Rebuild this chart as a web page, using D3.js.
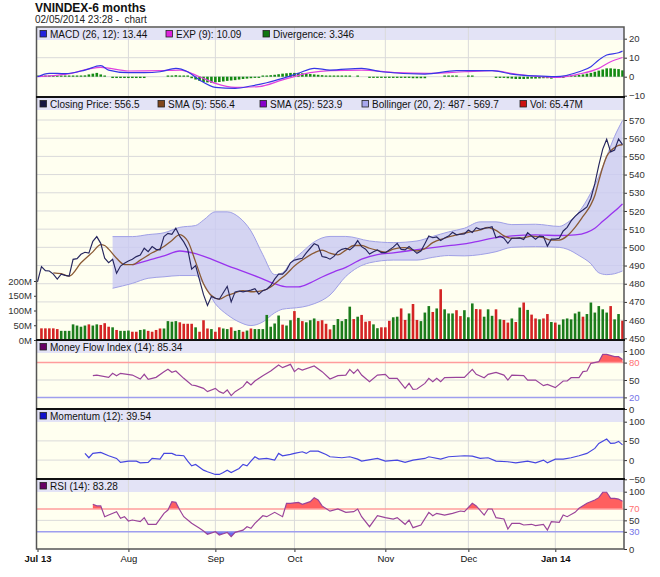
<!DOCTYPE html>
<html>
<head>
<meta charset="utf-8">
<script src="https://cdn.jsdelivr.net/npm/d3@7"></script>
<style>
  body { margin: 0; background: #fff; }
  text { font-family: "Liberation Sans", Arial, sans-serif; }
</style>
</head>
<body>
<div id="chart"></div>
<script>
// Values (x = trading day index, 0 = Jul 1 2013)
const monthTicks = [0, 23, 45, 65, 88, 109, 131];
const monthLabels = ["Jul 13", "Aug", "Sep", "Oct", "Nov", "Dec", "Jan 14"];

const closePrice = [481, 489.4, 487.2, 487, 485.3, 482.6, 485.3, 484.6, 484.2, 493.4,
  493.8, 496.2, 497.3, 496.8, 503.3, 505.9, 502.2, 494, 491.6, 493.4,
  485.7, 489.7, 491.2, 492.5, 493.4, 494.9, 495.8, 499.5, 497.6, 500.4,
  498.9, 498.6, 505.9, 507.7, 507.1, 510.5, 506, 503, 499, 488,
  490, 482, 474, 468, 473, 472, 471.5, 475, 478.5, 470,
  475.5, 476, 475.5, 476, 476.5, 477.3, 474.3, 476.2, 477, 479,
  482.5, 485.3, 485.3, 487.5, 491.5, 493, 493.5, 494, 497, 499.5,
  502, 501, 495, 494.5, 493.5, 495, 497.6, 498.9, 499.5, 498.6,
  500.4, 503.7, 500.4, 499, 496.3, 497.6, 498.6, 497.1, 497.1, 498.6,
  500.1, 502.2, 498.9, 498.6, 500.4, 498.6, 496.7, 498, 502, 506.2,
  505.3, 505.7, 503.8, 505.2, 506.2, 508.3, 506.9, 507.2, 507.4, 509.5,
  508.1, 510.8, 509.9, 510.5, 510.8, 511.3, 505.3, 506.2, 505, 502.2,
  505, 505, 505.2, 504.3, 508.1, 506.2, 504.5, 506.2, 506, 500.7,
  504.5, 504.5, 505, 509, 511, 514.5, 517, 519, 520.5, 522.2,
  527, 535, 545, 554, 559.4, 552.5, 553.5, 559.6, 556.5];

const sma5 = [[4,486],[6,485.5],[8,484.2],[11,491.5],[14,497.5],[16,501.5],[17,501],[18,499],[20,494],[22,490.5],
  [24,490.5],[26,493],[29,497],[32,500.5],[34,503.8],[36,507],[37,506],[38,503.5],[40,492],[42,480],
  [44,473.5],[46,471.5],[48,473.6],[50,475],[52,476.2],[54,475.6],[57,476.2],[59,478.2],[61,481.8],[63,485.4],
  [65,489.7],[67,493],[70,497],[72,498.5],[74,496.8],[76,495.9],[78,498.5],[80,501],[82,501],[84,499.5],
  [86,498.3],[88,497.3],[90,499],[93,499.8],[96,498],[98,499.3],[100,502.6],[103,505],[106,506.8],[109,508.3],
  [112,509.6],[114,510.9],[116,509.3],[118,506.3],[120,505],[123,505.2],[125,506.2],[128,505.3],[130,504],[132,504],
  [134,506.3],[136,511],[138,517],[140,523.5],[141,528.5],[142,536.5],[143,544],[144,550],[145,553],[146,554.8],
  [147,556],[148,556.4]];

const sma25 = [[24,490.3],[28,492.8],[32,495.3],[36,498],[40,496.5],[44,493.5],[48,490],[52,486.8],[56,483.5],[60,480],
  [63,478.3],[66,478.3],[69,480.5],[72,483.7],[75,486.5],[78,489],[82,493.5],[86,496],[90,497],[96,498.7],
  [100,499.8],[104,500.9],[108,501.9],[112,503.6],[116,505.3],[120,506.3],[126,506.8],[132,506.5],[136,506.8],[139,508.2],
  [141,510.5],[143,514.3],[145,518],[147,521.8],[148,523.9]];

const bandIdx = [19, 24, 28, 32, 36, 40, 42, 45, 48, 51, 54, 57, 60, 62, 64, 67, 70, 74, 78, 84,
  90, 96, 100, 104, 108, 112, 116, 120, 126, 132, 134, 137, 140, 142, 144, 146, 148];
const bandUpper = [505.9, 505.9, 507, 508, 511, 512, 515, 519.5, 519.5, 516.5, 509, 496, 485, 486, 491.5, 497.5, 503, 506, 506, 503.5,
  502.6, 503.5, 506, 508.5, 510.5, 514, 514, 512.5, 512.7, 511.5, 513.5, 519.5, 530, 539, 550, 561, 569.7];
const bandLower = [477.5, 480.2, 483, 483.8, 484.5, 484.5, 480, 469, 463, 459, 457, 459, 464, 466, 466.5, 467.2, 469, 473.8, 484, 491.5,
  493, 493, 494.5, 495.5, 495.3, 496, 497.6, 500, 500.4, 500, 499, 495.5, 491, 486, 485, 485.5, 487];

// volume in millions, starting at day 1
const volumeM = [39.5, 39.5, 39.5, 39.5, 37, 31, 31, 31, 53, 49,
  45, 49, 53, 49, 53, 51, 57, 45, 43, 34,
  31, 31, 32, 28, 28, 34, 36, 31, 28, 34,
  39, 39, 64, 62, 64, 60, 55, 55, 55, 43,
  28, 67, 39, 37, 28, 43, 39, 37, 43, 31,
  34, 28, 32, 39, 37, 37, 37, 85, 45, 56,
  83, 52, 49, 67, 98, 75, 64, 60, 67, 73,
  64, 67, 55, 36, 51, 71, 64, 71, 113, 71,
  79, 85, 62, 64, 53, 40, 43, 43, 65, 77,
  79, 107, 68, 90, 122, 68, 64, 93, 115, 95,
  107, 172, 104, 90, 90, 101, 81, 101, 77, 124,
  105, 104, 79, 104, 82, 104, 70, 68, 59, 73,
  61, 110, 127, 102, 86, 73, 70, 73, 88, 61,
  59, 52, 70, 73, 70, 90, 96, 79, 88, 127,
  93, 115, 104, 93, 115, 70, 88, 65.47];
const volumeDir = ["rrrrrggggg", "ggrggrrrgr", "gggrrggrrr", "rggggrrrrg", "rrrgrrggrg",
  "grgrgggggg", "grggrgrggg", "rrrrgggggr", "grrrggrrrg", "grrgrrgggr",
  "grgggrrggg", "rrgggrgrrg", "rgrgrrgrrg", "rggggggrgg", "ggggrggr"].join("");

const macd = [[0,0],[3,1.8],[7,1.6],[12,3.5],[16,5.8],[18,3.5],[23,2.1],[27,2.1],[31,2.6],[35,4.4],
  [38,2.6],[41,-1.7],[45,-5.6],[50,-6.1],[54,-4.9],[58,-3.2],[62,-0.9],[66,1.8],[70,4.4],[74,3.5],
  [82,4.4],[87,2.6],[98,1.4],[106,3.2],[115,3.2],[120,1.4],[126,0.4],[131,0],[137,2.6],[140,5.3],
  [142,8.8],[144,11.4],[147,12.6],[148,13.44]];
const macdExp = [[0,0],[7,1.2],[16,4.9],[23,3],[31,3.2],[36,3.5],[41,0],[45,-3.5],[50,-5.6],[56,-5.2],
  [62,-1.7],[69,2.1],[74,3.2],[82,3.5],[91,2.1],[99,1.8],[108,2.6],[115,3.2],[121,1.4],[131,-0.4],
  [137,1.4],[142,4.4],[145,7.9],[148,10.09]];
const divergence = [0.3, 0.3, 0.4, 0.4, 0.3, 0.5, 0.5, 0.6, 0.5, 0.6,
  0.5, 0.6, 0.7, 1.2, 1.6, 2.0, 1.2, 0.3, 0, -0.7,
  -0.7, -0.7, -0.7, -0.7, -0.7, -0.7, -0.7, -0.7, 0, 0,
  0, 0, 0, 0.5, 0.6, 0.8, 0.6, 0.3, 0.2, -0.8,
  -1.5, -2.2, -2.8, -3.0, -3.2, -3.0, -2.8, -2.5, -2.2, -2.0,
  -1.8, -1.5, -1.2, -1.0, -0.8, -0.6, -0.3, 0.3, 0.5, 0.8,
  1.0, 1.3, 1.6, 1.8, 2.0, 2.0, 2.0, 1.8, 1.6, 1.4,
  1.2, 1.0, 0.8, 0.6, 0.5, 0.5, 0.4, 0.4, 0.4, 0.3,
  0, 0.3, 0, 0, -0.3, -0.5, -0.5, -0.5, -0.5, -0.5,
  -0.5, -0.5, -0.5, -0.5, -0.5, -0.8, -0.8, -0.8, -0.8, 0,
  0, 0, 0, 0.4, 0.4, 0.4, 0.4, 0, 0, 0.4,
  0.4, 0, 0, 0, 0, 0, -0.4, -0.5, -0.6, -0.8,
  -1.0, -1.2, -1.2, -1.2, -1.1, -1.0, -1.0, -0.9, -0.8, -0.8,
  -1.0, -0.6, -0.4, -0.2, 0.3, 0.5, 0.7, 0.9, 1.2, 1.6,
  2.0, 2.6, 3.2, 3.8, 4.4, 4.4, 4.2, 4.0, 3.346];

const mfi = [[14,57.4],[15,58.5],[18,54.6],[19,61.5],[20,57.4],[21,61.5],[24,58.5],[26,51.7],[27,59.8],[28,51.1],
  [30,54.6],[32,64.4],[33,68.4],[34,63.2],[35,65.5],[37,52.9],[39,41.4],[40,40.2],[42,35.6],[43,29.9],
  [45,35.6],[46,29.9],[47,27],[48,32.8],[49,23],[50,29.9],[52,38.5],[53,47.1],[54,41.4],[55,48.3],
  [57,57.4],[59,65.5],[61,75.9],[62,71.3],[64,77],[65,64.4],[66,70.1],[67,67.2],[70,74.1],[72,64.4],
  [74,51.7],[76,57.4],[78,58.5],[79,68.4],[80,61.5],[81,68.4],[82,58.5],[84,47.1],[86,58.5],[88,59.8],
  [89,52.9],[91,52.9],[93,35.6],[94,44.2],[95,33.9],[96,34.5],[98,44.2],[99,52.9],[100,47.1],[101,52.9],
  [102,47.1],[103,54],[106,54.6],[108,54.6],[110,68.4],[111,59.8],[113,54],[114,59.8],[116,63.2],[118,58.5],
  [119,49.9],[120,58.5],[123,57.4],[124,49.9],[126,49.9],[128,40.2],[129,42.5],[131,36.8],[133,48.3],[134,48.3],
  [135,54],[137,54],[138,64.4],[139,65.5],[140,78.8],[142,81.6],[143,94.2],[144,94.2],[146,90.2],[147,90.2],
  [148,85.34]];

const momentum = [[12,17.4],[13,6.1],[14,17.4],[16,20],[18,11.3],[20,4.3],[21,-6],[23,-2.6],[25,-2.6],[26,-7],
  [28,-6],[29,4.3],[31,2.6],[32,17.4],[34,17.4],[35,13],[37,11.3],[38,-2.6],[39,-14.8],[40,-11.3],
  [42,-26.1],[43,-30.5],[45,-37.4],[46,-37.4],[47,-32.2],[48,-26.1],[49,-32.2],[51,-21.8],[52,-11.3],[53,-14.8],
  [54,-2.6],[55,8.7],[56,2.6],[58,4.3],[60,0],[61,17.4],[62,11.3],[64,14.8],[65,17.4],[67,21.7],
  [68,17.4],[69,23.5],[71,23.5],[73,14.8],[74,8.7],[77,6.1],[79,8.7],[81,2.6],[82,-2.6],[86,4.3],
  [88,-2.6],[91,0],[93,-6],[95,0],[98,4.3],[99,8.7],[102,2.6],[104,8.7],[108,11.3],[110,10.4],
  [112,4.3],[114,6.1],[116,-2.6],[119,-4.3],[121,-7],[124,-2.6],[126,-7],[128,0],[129,-7],[131,2.6],
  [133,2.6],[135,6.1],[137,11.3],[139,17.4],[141,30.5],[142,43.5],[144,54.8],[145,43.5],[146,44],[147,48.7],
  [148,39.54]];

const rsi = [[14,78],[15,75.2],[16,75.2],[17,56.4],[18,59.3],[20,65.1],[21,53.5],[22,56.4],[23,48.9],[24,50.6],
  [26,47.7],[27,54.7],[28,43.1],[30,43.1],[32,62.2],[33,68],[34,82.6],[35,81.4],[36,68],[37,56.4],
  [39,44.8],[41,36.1],[42,31.4],[43,25.6],[45,30.2],[46,24.4],[47,26.7],[48,29],[49,21.5],[50,29],
  [52,33],[53,38.9],[54,36.1],[55,44.8],[57,58.1],[58,56.4],[60,64],[62,56.4],[63,79.8],[64,79.8],
  [66,81.4],[67,78],[69,82.6],[70,89.6],[71,85.5],[72,75.2],[74,66],[76,69.8],[78,64],[80,65.1],
  [81,69.8],[82,56.4],[84,38.9],[86,58.1],[88,54.7],[90,52.3],[91,54.7],[93,43.1],[94,50.6],[95,37.2],
  [97,41.9],[99,64],[100,58.1],[101,62.2],[103,59.3],[105,62.2],[107,66.3],[108,65.1],[110,79.8],[111,75.2],
  [113,59.3],[114,69.8],[115,69.8],[116,54.7],[118,52.3],[119,34.9],[120,44.8],[122,44.8],[123,41.9],[125,43.1],
  [126,40.7],[128,43.1],[129,33.2],[130,47.7],[132,46.5],[133,59.3],[134,56.4],[136,64],[137,71],[139,79.8],
  [141,85.5],[142,89.6],[143,99],[144,99],[145,88.4],[146,88.4],[147,87.2],[148,83.28]];

// ---- layout ----
const W = 660, H = 577;
const L = 37, R = 624;

const svg = d3.select("#chart").append("svg")
    .attr("width", W)
    .attr("height", H);

const x = d3.scaleLinear().domain([0, 148]).range([37.5, 622.5]);

const yMacd = d3.scaleLinear().domain([-10, 20]).range([95.7, 38.7]);
const yPrice = d3.scaleLinear().domain([450, 570]).range([338.3, 120]);
const yVol = d3.scaleLinear().domain([0, 200]).range([340, 281]);
const yMfi = d3.scaleLinear().domain([0, 100]).range([409, 351]);
const yMom = d3.scaleLinear().domain([-50, 100]).range([479.3, 421.7]);
const yRsi = d3.scaleLinear().domain([0, 100]).range([549, 491.7]);

// title
svg.append("text").attr("x", 35).attr("y", 11.5)
    .attr("font-size", 12).attr("font-weight", "bold").attr("fill", "#111")
    .text("VNINDEX-6 months");
svg.append("text").attr("x", 35).attr("y", 22.5)
    .attr("font-size", 10).attr("fill", "#222").style("white-space", "pre")
    .text("02/05/2014 23:28 -  chart");

// panel backgrounds, legend strips, month grid
function panel(top, bottom) {
  svg.append("rect").attr("x", L).attr("y", top).attr("width", R - L).attr("height", bottom - top)
      .attr("fill", "#fffff0");
  svg.append("rect").attr("x", L).attr("y", top + 1).attr("width", R - L).attr("height", 12)
      .attr("fill", "#e3e3f6");
  svg.append("g").selectAll("line").data(monthTicks.slice(1)).join("line")
      .attr("x1", d => x(d)).attr("x2", d => x(d))
      .attr("y1", top).attr("y2", bottom)
      .attr("stroke", "#dadada");
}
panel(27, 97);
panel(97, 340);
panel(340, 409);
panel(409, 479);
panel(479, 549);

function hgrid(vals, y, color, w) {
  svg.append("g").selectAll("line").data(vals).join("line")
      .attr("x1", L).attr("x2", R)
      .attr("y1", d => y(d)).attr("y2", d => y(d))
      .attr("stroke", color).attr("stroke-width", w || 1);
}
hgrid([10, 0], yMacd, "#dadada");
hgrid(d3.range(460, 571, 10), yPrice, "#dadada");
hgrid([50], yMfi, "#dadada");
hgrid([50, 0], yMom, "#dadada");
hgrid([50], yRsi, "#dadada");

// ---- MACD panel ----
svg.append("g").selectAll("rect").data(divergence).join("rect")
    .attr("x", (d, i) => x(i) - 1.3)
    .attr("width", 2.6)
    .attr("y", d => d >= 0 ? yMacd(0) - Math.max(1.2, yMacd(0) - yMacd(d)) : yMacd(0))
    .attr("height", d => d === 0 ? 0 : Math.max(1.2, Math.abs(yMacd(d) - yMacd(0))))
    .attr("fill", "#138a13");

const smooth = (ys) => d3.line().x(d => x(d[0])).y(d => ys(d[1])).curve(d3.curveMonotoneX);

svg.append("path").datum(macdExp).attr("d", smooth(yMacd))
    .attr("fill", "none").attr("stroke", "#e040e0").attr("stroke-width", 1.2);
svg.append("path").datum(macd).attr("d", smooth(yMacd))
    .attr("fill", "none").attr("stroke", "#3636e6").attr("stroke-width", 1.2);

// ---- price panel ----
const band = bandIdx.map((d, i) => [d, bandLower[i], bandUpper[i]]);
svg.append("path").datum(band)
    .attr("d", d3.area().x(d => x(d[0])).y0(d => yPrice(d[1])).y1(d => yPrice(d[2])).curve(d3.curveMonotoneX))
    .attr("fill", "#c9c9f3").attr("fill-opacity", 0.8);
svg.append("path").datum(band.map(d => [d[0], d[1]])).attr("d", smooth(yPrice))
    .attr("fill", "none").attr("stroke", "#a0a0e6").attr("stroke-width", 1);
svg.append("path").datum(band.map(d => [d[0], d[2]])).attr("d", smooth(yPrice))
    .attr("fill", "none").attr("stroke", "#a0a0e6").attr("stroke-width", 1);

svg.append("g").selectAll("rect").data(volumeM).join("rect")
    .attr("x", (d, i) => x(i + 1) - 1.3)
    .attr("y", d => yVol(d))
    .attr("width", 2.6)
    .attr("height", d => yVol(0) - yVol(d))
    .attr("fill", (d, i) => volumeDir[i] === "g" ? "#1b7c1b" : "#d42424");

svg.append("path").datum(sma25).attr("d", smooth(yPrice))
    .attr("fill", "none").attr("stroke", "#9933ee").attr("stroke-width", 1.3);
svg.append("path").datum(sma5).attr("d", smooth(yPrice))
    .attr("fill", "none").attr("stroke", "#8a5a34").attr("stroke-width", 1.3);
svg.append("path").datum(closePrice)
    .attr("d", d3.line().x((d, i) => x(i)).y(d => yPrice(d)))
    .attr("fill", "none").attr("stroke", "#26265e").attr("stroke-width", 1.15);

// ---- oscillator panels ----
let clipId = 0;
function zoneFill(data, y, level, above, top, bottom, color) {
  const id = "clip" + (clipId++);
  svg.append("clipPath").attr("id", id).append("rect")
      .attr("x", L).attr("width", R - L)
      .attr("y", above ? top : y(level))
      .attr("height", above ? y(level) - top : bottom - y(level));
  svg.append("path").datum(data)
      .attr("d", d3.area().x(d => x(d[0])).y0(y(level)).y1(d => y(d[1])))
      .attr("clip-path", `url(#${id})`)
      .attr("fill", color);
}
function oscLine(data, y, color) {
  svg.append("path").datum(data)
      .attr("d", d3.line().x(d => x(d[0])).y(d => y(d[1])))
      .attr("fill", "none").attr("stroke", color).attr("stroke-width", 1.2);
}

// MFI
zoneFill(mfi, yMfi, 80, true, 340, 409, "#ff5f5f");
zoneFill(mfi, yMfi, 20, false, 340, 409, "#6a6aee");
hgrid([80], yMfi, "#ff9c9c", 1.5);
hgrid([20], yMfi, "#9e9eee", 1.5);
oscLine(mfi, yMfi, "#9a449a");

// Momentum
oscLine(momentum, yMom, "#4646e0");

// RSI
zoneFill(rsi, yRsi, 70, true, 479, 549, "#ff5f5f");
zoneFill(rsi, yRsi, 30, false, 479, 549, "#6a6aee");
hgrid([70], yRsi, "#ff9c9c", 1.5);
hgrid([30], yRsi, "#9e9eee", 1.5);
oscLine(rsi, yRsi, "#9a449a");

// ---- legends ----
function legend(top, items) {
  const g = svg.append("g");
  items.forEach(it => {
    g.append("rect").attr("x", it[0]).attr("y", top + 3.5).attr("width", 6.5).attr("height", 6.5)
        .attr("fill", it[1]).attr("stroke", "#222").attr("stroke-width", 0.8);
    g.append("text").attr("x", it[0] + 10).attr("y", top + 10.5)
        .attr("font-size", 10).attr("fill", "#111").text(it[2]);
  });
}
legend(27, [[40, "#2222dd", "MACD (26, 12): 13.44"], [166, "#dd22dd", "EXP (9): 10.09"], [263, "#117711", "Divergence: 3.346"]]);
legend(97, [[40, "#151540", "Closing Price: 556.5"], [158, "#80461b", "SMA (5): 556.4"], [260, "#8800cc", "SMA (25): 523.9"],
  [362, "#a8a8ee", "Bollinger (20, 2): 487 - 569.7"], [520, "#cc1111", "Vol: 65.47M"]]);
legend(340, [[40, "#660066", "Money Flow Index (14): 85.34"]]);
legend(409, [[40, "#1111cc", "Momentum (12): 39.54"]]);
legend(479, [[40, "#660066", "RSI (14): 83.28"]]);

// ---- axes ----
function styleAxis(g) {
  g.attr("font-family", "'Liberation Sans', Arial, sans-serif").attr("font-size", 9.5);
  g.select(".domain").remove();
  g.selectAll("line").attr("stroke", "#333");
  g.selectAll("text").attr("fill", "#333");
  return g;
}
function rightAxis(y, ticks) {
  return styleAxis(svg.append("g").attr("transform", `translate(${R},0)`)
      .call(d3.axisRight(y).tickValues(ticks).tickSize(3).tickPadding(2)));
}
rightAxis(yMacd, [20, 10, 0, -10]);
rightAxis(yPrice, d3.range(450, 571, 10));
rightAxis(yMfi, [100, 80, 50, 20, 0]).selectAll("text")
    .attr("fill", d => d === 80 ? "#ff7070" : d === 20 ? "#7474e8" : "#333");
rightAxis(yMom, [100, 50, 0, -50]);
rightAxis(yRsi, [100, 70, 50, 30, 0]).selectAll("text")
    .attr("fill", d => d === 70 ? "#ff7070" : d === 30 ? "#7474e8" : "#333");

styleAxis(svg.append("g").attr("transform", `translate(${L},0)`)
    .call(d3.axisLeft(yVol).tickValues([0, 50, 100, 150, 200]).tickFormat(d => d + "M").tickSize(3).tickPadding(2)));

const xAxis = styleAxis(svg.append("g").attr("transform", "translate(0,549)")
    .call(d3.axisBottom(x).tickValues(monthTicks).tickFormat((d, i) => monthLabels[i]).tickSize(3).tickPadding(3)));
xAxis.selectAll("text")
    .attr("font-weight", (d, i) => (i === 0 || i === monthTicks.length - 1) ? "bold" : "normal")
    .attr("fill", "#111");

// ---- frame ----
svg.append("rect").attr("x", 36.5).attr("y", 27).attr("width", R - 36.5).attr("height", 522)
    .attr("fill", "none").attr("stroke", "#555").attr("stroke-width", 1.5);
svg.append("g").selectAll("line").data([97, 340, 409, 479]).join("line")
    .attr("x1", 36).attr("x2", R + 1)
    .attr("y1", d => d).attr("y2", d => d)
    .attr("stroke", "#111").attr("stroke-width", 2);
</script>
</body>
</html>
